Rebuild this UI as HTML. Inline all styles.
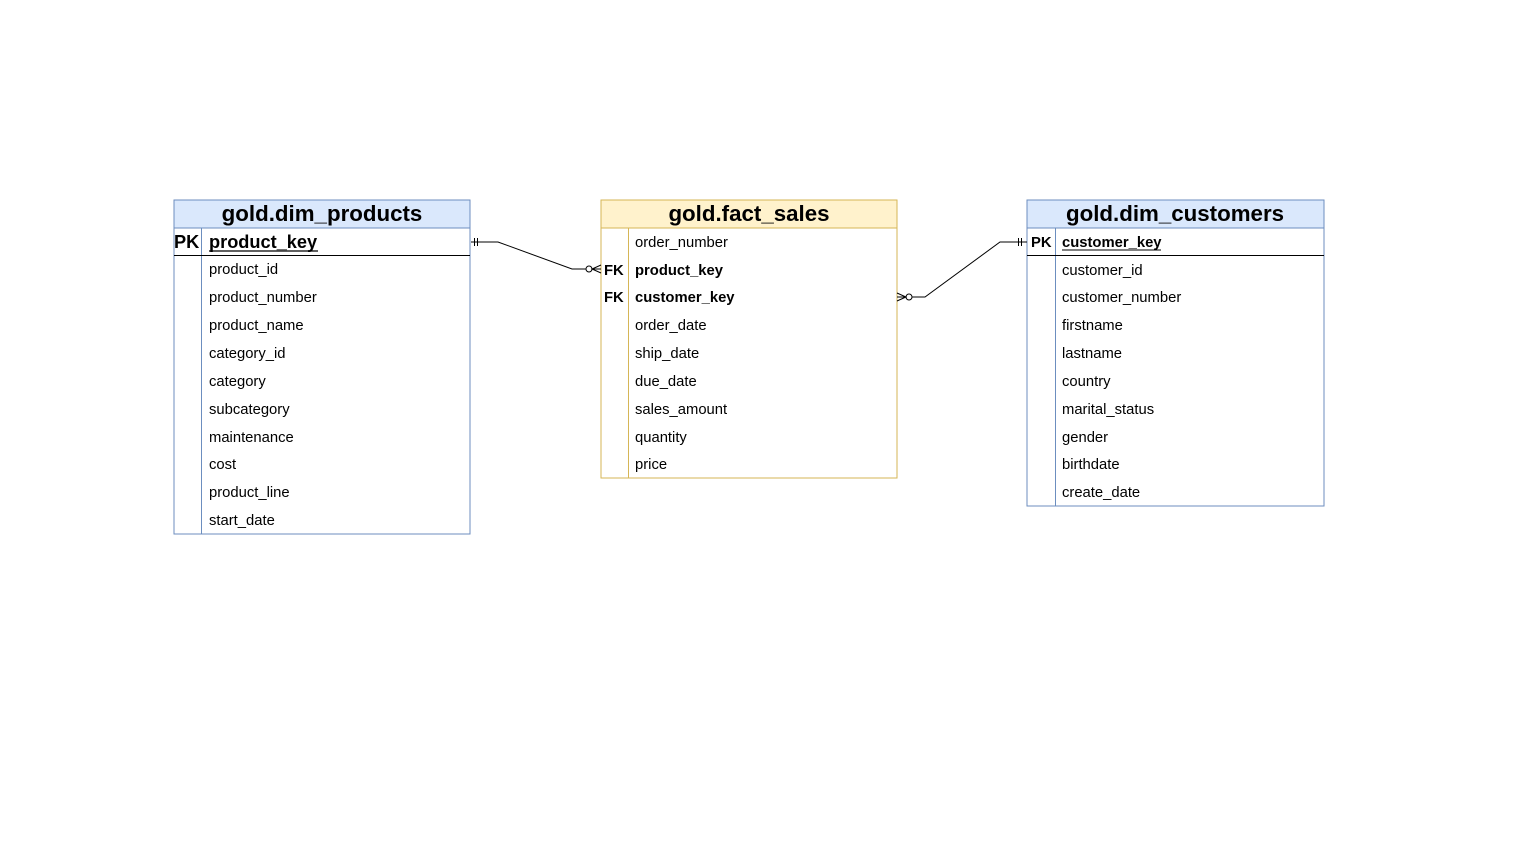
<!DOCTYPE html>
<html><head><meta charset="utf-8"><style>
body{margin:0;background:#fff}
svg{display:block}
text{font-family:"Liberation Sans",Arial,sans-serif;fill:#000}
.h{font-size:22.3px;font-weight:bold}
.r{font-size:14.8px}
.b{font-size:14.8px;font-weight:bold}
.pk{font-size:18.2px;font-weight:bold}
</style></head><body>
<svg width="1535" height="860" viewBox="0 0 1535 860">
<!-- products -->
<rect x="174" y="200" width="296" height="334" fill="#fff" stroke="#6c8ebf"/>
<rect x="174" y="200" width="296" height="28" fill="#dae8fc" stroke="#6c8ebf"/>
<line x1="201.5" y1="228" x2="201.5" y2="534" stroke="#6c8ebf"/>
<line x1="174" y1="255.5" x2="470" y2="255.5" stroke="#000"/>
<text class="h" x="322" y="221" text-anchor="middle">gold.dim_products</text>
<text class="pk" x="174" y="248">PK</text>
<text class="pk" x="209" y="248">product_key</text>
<line x1="209" y1="251" x2="318" y2="251" stroke="#000" stroke-width="1.3"/>
<text class="r" x="209" y="274">product_id</text>
<text class="r" x="209" y="302">product_number</text>
<text class="r" x="209" y="330">product_name</text>
<text class="r" x="209" y="358">category_id</text>
<text class="r" x="209" y="386">category</text>
<text class="r" x="209" y="414">subcategory</text>
<text class="r" x="209" y="442">maintenance</text>
<text class="r" x="209" y="469">cost</text>
<text class="r" x="209" y="497">product_line</text>
<text class="r" x="209" y="525">start_date</text>
<!-- fact -->
<rect x="601" y="200" width="296" height="278" fill="#fff" stroke="#d6b656"/>
<rect x="601" y="200" width="296" height="28" fill="#fff2cc" stroke="#d6b656"/>
<line x1="628.5" y1="228" x2="628.5" y2="478" stroke="#d6b656"/>
<text class="h" x="749" y="221" text-anchor="middle">gold.fact_sales</text>
<text class="r" x="635" y="247">order_number</text>
<text class="b" x="604" y="275">FK</text>
<text class="b" x="635" y="275">product_key</text>
<text class="b" x="604" y="302">FK</text>
<text class="b" x="635" y="302">customer_key</text>
<text class="r" x="635" y="330">order_date</text>
<text class="r" x="635" y="358">ship_date</text>
<text class="r" x="635" y="386">due_date</text>
<text class="r" x="635" y="414">sales_amount</text>
<text class="r" x="635" y="442">quantity</text>
<text class="r" x="635" y="469">price</text>
<!-- customers -->
<rect x="1027" y="200" width="297" height="306" fill="#fff" stroke="#6c8ebf"/>
<rect x="1027" y="200" width="297" height="28" fill="#dae8fc" stroke="#6c8ebf"/>
<line x1="1055.5" y1="228" x2="1055.5" y2="506" stroke="#6c8ebf"/>
<line x1="1027" y1="255.5" x2="1324" y2="255.5" stroke="#000"/>
<text class="h" x="1175" y="221" text-anchor="middle">gold.dim_customers</text>
<text class="b" x="1031" y="247">PK</text>
<text class="b" x="1062" y="247">customer_key</text>
<line x1="1062" y1="250" x2="1161" y2="250" stroke="#000"/>
<text class="r" x="1062" y="275">customer_id</text>
<text class="r" x="1062" y="302">customer_number</text>
<text class="r" x="1062" y="330">firstname</text>
<text class="r" x="1062" y="358">lastname</text>
<text class="r" x="1062" y="386">country</text>
<text class="r" x="1062" y="414">marital_status</text>
<text class="r" x="1062" y="442">gender</text>
<text class="r" x="1062" y="469">birthdate</text>
<text class="r" x="1062" y="497">create_date</text>
<!-- connectors -->
<g stroke="#000" fill="none" stroke-width="1">
<polyline points="471,242 498,242 572,269 586,269"/>
<line x1="474.5" y1="238" x2="474.5" y2="246"/><line x1="477.5" y1="238" x2="477.5" y2="246"/>
<circle cx="589" cy="269" r="3" fill="#fff"/>
<polyline points="601,265 592,269 601,273"/><line x1="592" y1="269" x2="601" y2="269"/>
<polyline points="1027,242 1000,242 925,297 912,297"/>
<line x1="1018.5" y1="238" x2="1018.5" y2="246"/><line x1="1021.5" y1="238" x2="1021.5" y2="246"/>
<circle cx="909" cy="297" r="3" fill="#fff"/>
<polyline points="897,293 906,297 897,301"/><line x1="897" y1="297" x2="906" y2="297"/>
</g>
</svg>
</body></html>
